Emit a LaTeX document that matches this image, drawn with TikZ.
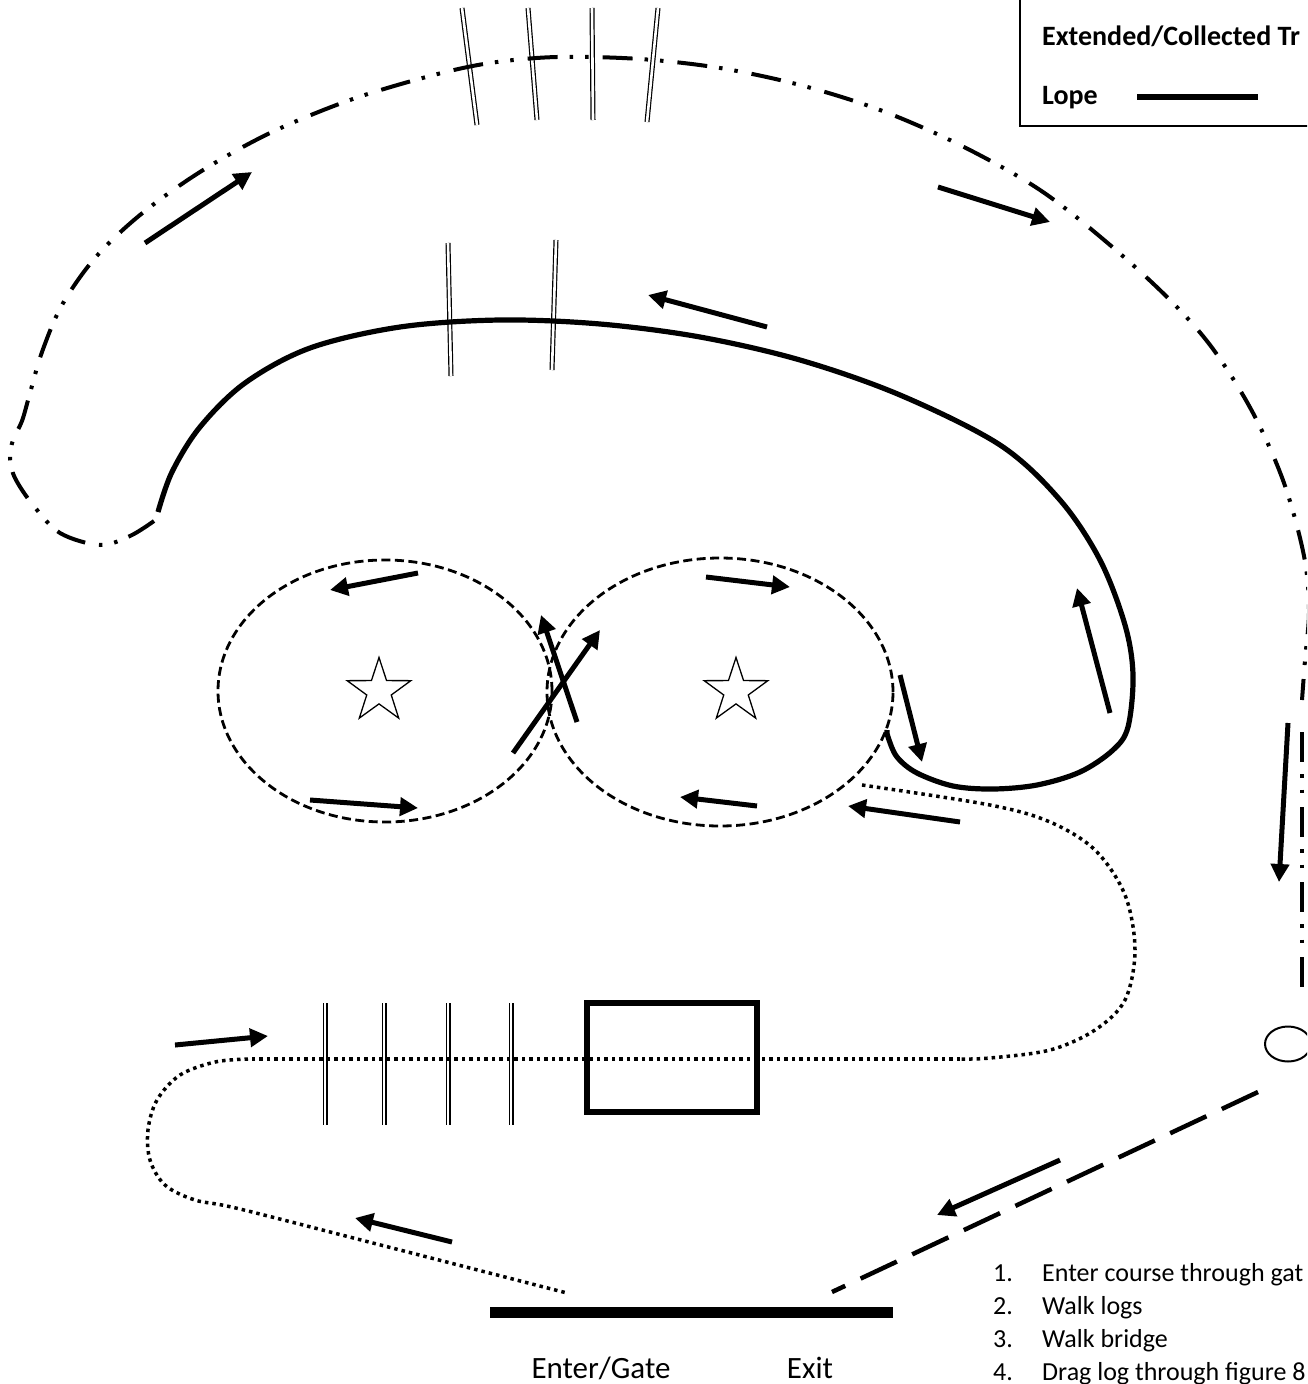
\documentclass[tikz,border=0pt]{standalone}
\usepackage{fontspec}
\setmainfont{Carlito}
\usetikzlibrary{arrows.meta,shapes.geometric}
\begin{document}
\begin{tikzpicture}[x=1pt,y=-1pt,
  trot/.style={line width=4pt, dash pattern=on 30pt off 12pt on 3.5pt off 12pt on 3.5pt off 14pt},
  lope/.style={line width=5.2pt},
  walkc/.style={line width=2.8pt, dash pattern=on 9pt off 4.5pt},
  dotp/.style={line width=3.5pt, dash pattern=on 3.5pt off 4pt},
  longdash/.style={line width=4.5pt, dash pattern=on 40pt off 17pt},
  arr/.style={line width=5pt, -{Triangle[length=18pt,width=18pt]}},
  pole/.style={double, double distance=2.6pt, line width=1.2pt},
  starn/.style={star, star points=5, star point ratio=2.6, draw, line width=1.3pt, minimum size=67pt, inner sep=0pt},
  lbl/.style={font=\fontsize{26}{31}\selectfont, inner sep=0pt, anchor=base west},
  leglbl/.style={font=\fontsize{28}{33}\selectfont\bfseries, inner sep=0pt, anchor=base west},
  gatelbl/.style={font=\fontsize{31}{37}\selectfont, inner sep=0pt, anchor=base}]
\useasboundingbox (0,0) rectangle (1307,1384);
\clip (0,0) rectangle (1307,1384);

% legend
\draw[line width=1.5pt] (1020,-5) rectangle (1330,126);
\node[leglbl] (legtrot) at (1042,45) {Extended/Collected Tr};
\node[leglbl] (leglope) at (1042,104) {Lope};
\coordinate (ll1) at (1137,97);
\coordinate (ll2) at (1258,97);
\draw[line width=6pt] (ll1) -- (ll2);

% poles on top arc
\draw[pole] (462,8) -- (477,125);
\draw[pole] (528,8) -- (537,120);
\draw[pole] (592,8) -- (593,120);
\draw[pole] (658,8) -- (647,122);
% poles on lope arc
\draw[pole] (448,243) -- (451,376);
\draw[pole] (556,240) -- (552,370);

% outer trot path
\draw[trot] plot[smooth, tension=0.55] coordinates {(154,521) (130,536) (100,545) (60,533) (33,505) (15,478) (10,458) (13,440) (22,421) (30,393) (42,352) (62,305) (95,258) (140,215) (200,172) (270,133) (350,100) (430,76) (490,63) (557,57) (640,59) (720,68) (800,85) (880,110) (960,145) (1040,190) (1110,245) (1170,300) (1213,349) (1253,413) (1284,483) (1304,556) (1309,610) (1305,660) (1302,700)};
\coordinate (v1) at (1302,732);
\coordinate (v2) at (1302,995);
\draw[trot] (v1) -- (v2);
\draw[line width=2pt] (1288,1044) ellipse [x radius=23pt, y radius=17.5pt];
\coordinate (d1) at (1258,1092);
\coordinate (d2) at (832,1292);
\draw[longdash] (d1) -- (d2);

% lope path
\draw[lope] plot[smooth, tension=0.55] coordinates {(158,512) (172,472) (200,427) (245,383) (310,348) (400,327) (500,320) (600,324) (700,337) (800,360) (900,395) (1000,445) (1060,500) (1100,560) (1125,625) (1133,675) (1128,727) (1113,750) (1080,772) (1037,785) (993,789) (953,786) (917,773) (897,757) (888,737) (887,730)};

% figure eight
\draw[walkc] (385,691) ellipse [x radius=167pt, y radius=131pt];
\draw[walkc] (720,692) ellipse [x radius=173pt, y radius=134pt];
\node[starn] (star1) at (379,691) {};
\node[starn] (star2) at (736,691) {};

% logs
\draw[pole] (325,1003) -- (325,1125);
\draw[pole] (384,1003) -- (384,1125);
\draw[pole] (448,1003) -- (448,1125);
\draw[pole] (511,1003) -- (511,1125);

% dotted path
\draw[dotp] plot[smooth, tension=0.55] coordinates {(862,785) (990,805) (1050,822) (1095,850) (1125,895) (1135,950) (1125,1000) (1095,1030) (1050,1050) (990,1058) (960,1059)};
\draw[dotp] (960,1059) -- (248,1059);
\draw[dotp] plot[smooth, tension=0.55] coordinates {(248,1059) (215,1062) (180,1075) (157,1100) (148,1130) (150,1160) (165,1185) (195,1200) (240,1209) (400,1250) (567,1293)};

% bridge
\node[draw, line width=6pt, minimum width=170pt, minimum height=109pt, inner sep=0pt] (bridge) at (672,1057.5) {};

% gate
\coordinate (g1) at (490,1312);
\coordinate (g2) at (893,1312);
\draw[line width=11pt] (g1) -- (g2);
\node[gatelbl] (enter) at (601,1378) {Enter/Gate};
\node[gatelbl] (exit) at (810,1378) {Exit};

% list
\node[lbl] (n1) at (993,1281) {1.};
\node[lbl] (t1) at (1042,1281) {Enter course through gat};
\node[lbl] (n2) at (993,1314) {2.};
\node[lbl] (t2) at (1042,1314) {Walk logs};
\node[lbl] (n3) at (993,1347) {3.};
\node[lbl] (t3) at (1042,1347) {Walk bridge};
\node[lbl] (n4) at (993,1380) {4.};
\node[lbl] (t4) at (1042,1380) {Drag log through figure 8};

% arrows
\draw[arr] (145,243) -- (252,172);
\draw[arr] (938,187) -- (1050,222);
\draw[arr] (767,327) -- (648,295);
\draw[arr] (418,573) -- (330,590);
\draw[arr] (310,800) -- (418,808);
\draw[arr] (706,577) -- (790,587);
\draw[arr] (513,753) -- (600,630);
\draw[arr] (577,722) -- (541,615);
\draw[arr] (900,675) -- (922,762);
\draw[arr] (1110,713) -- (1077,588);
\draw[arr] (757,806) -- (680,797);
\draw[arr] (960,822) -- (848,806);
\draw[arr] (1288,723) -- (1279,882);
\draw[arr] (1060,1160) -- (937,1215);
\draw[arr] (452,1242) -- (355,1218);
\draw[arr] (175,1045) -- (268,1036);
\end{tikzpicture}
\end{document}
